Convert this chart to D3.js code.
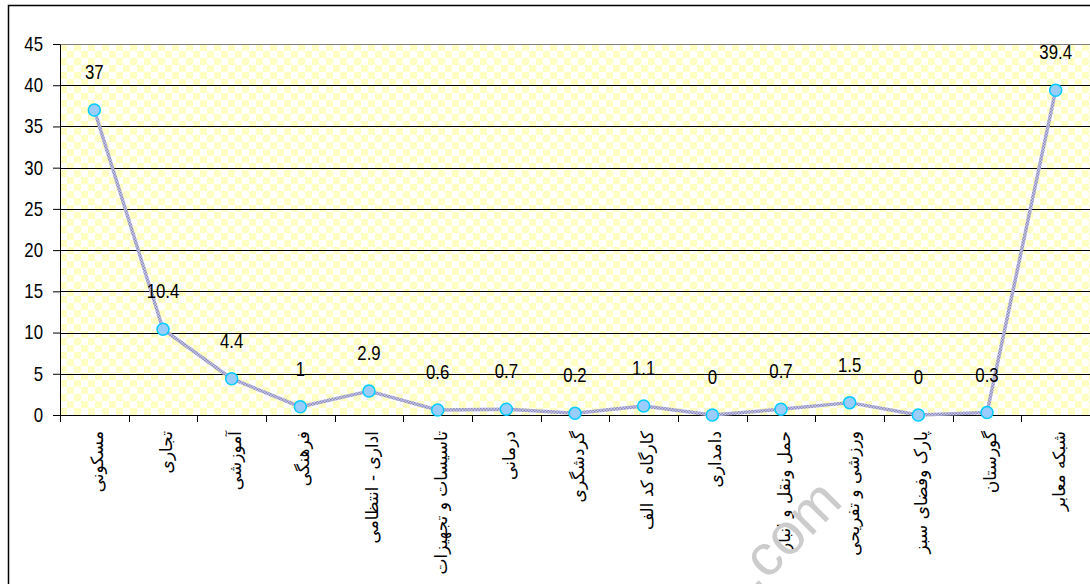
<!DOCTYPE html>
<html><head><meta charset="utf-8">
<script src="https://cdn.jsdelivr.net/npm/d3@7"></script>
<style>body{margin:0;background:#fff;} svg{display:block;}</style>
</head><body>
<svg id="c" width="1090" height="584"></svg>
<script>
const categories = ["مسکونی","تجاری","آموزشی","فرهنگی","اداری - انتظامی","تاسیسات و تجهیزات","درمانی","گردشگری","کارگاه کد الف","دامداری","حمل ونقل و انبار","ورزشی و تفریحی","پارک وفضای سبز","گورستان","شبکه معابر"];
const values = [37,10.4,4.4,1,2.9,0.6,0.7,0.2,1.1,0,0.7,1.5,0,0.3,39.4];
const yTicks = [0,5,10,15,20,25,30,35,40,45];

const svg = d3.select("#c");
const font = "'Liberation Sans',sans-serif";
const L = 60, R = 1090, T = 44, B = 415;
const SX = 0.84;

// outer frame
svg.append("rect").attr("x",8.5).attr("y",5.5).attr("width",1100).attr("height",700)
  .attr("fill","#fff").attr("stroke","#000").attr("stroke-width",1.5);

const defs = svg.append("defs");
const pat = defs.append("pattern").attr("id","chk").attr("patternUnits","userSpaceOnUse")
  .attr("width",14).attr("height",14).attr("x",L).attr("y",T);
pat.append("rect").attr("width",14).attr("height",14).attr("fill","#ffffff");
pat.append("rect").attr("width",7).attr("height",7).attr("fill","#ffffc4");
pat.append("rect").attr("x",7).attr("y",7).attr("width",7).attr("height",7).attr("fill","#ffffc4");

const lp = defs.append("pattern").attr("id","lin").attr("patternUnits","userSpaceOnUse").attr("width",3).attr("height",3);
lp.append("rect").attr("width",3).attr("height",3).attr("fill","#c8c8e6");
lp.append("rect").attr("width",1.5).attr("height",1.5).attr("fill","#8c8cc0");
lp.append("rect").attr("x",1.5).attr("y",1.5).attr("width",1.5).attr("height",1.5).attr("fill","#8c8cc0");

const x = d3.scaleBand().domain(categories).range([L,R]).padding(0);
const y = d3.scaleLinear().domain([0,45]).range([B,T]);

svg.append("rect").attr("x",L).attr("y",T).attr("width",R-L).attr("height",B-T).attr("fill","url(#chk)");

// gridlines
svg.append("g").selectAll("line").data(yTicks.filter(d=>d>0&&d<45)).join("line")
  .attr("x1",L).attr("x2",R).attr("y1",d=>Math.round(y(d))+0.5).attr("y2",d=>Math.round(y(d))+0.5)
  .attr("stroke","#000").attr("stroke-width",1);
svg.append("line").attr("x1",L).attr("x2",R).attr("y1",T+0.5).attr("y2",T+0.5).attr("stroke","#808080");

// y axis
const ya = svg.append("g").attr("transform",`translate(${L},0)`)
  .call(d3.axisLeft(y).tickValues(yTicks).tickSize(7).tickSizeOuter(0).tickPadding(9));
ya.select(".domain").attr("stroke","#000");
ya.selectAll("line").attr("stroke","#000");
ya.selectAll(".tick text").attr("x",0).attr("font-family",font).attr("font-size",20).attr("fill","#000")
  .attr("transform",`translate(-17,0) scale(${SX},1)`);

// x axis
const xa = svg.append("g").attr("transform",`translate(0,${B})`)
  .call(d3.axisBottom(x).tickSize(0).tickFormat(""));
xa.select(".domain").attr("stroke","#000");
const edges = categories.map((c,i)=>x(c)).concat([R]);
xa.selectAll("line.edge").data(edges).join("line").attr("class","edge")
  .attr("x1",d=>Math.round(d)+0.5).attr("x2",d=>Math.round(d)+0.5).attr("y1",0).attr("y2",7).attr("stroke","#000");

// x labels
svg.append("g").selectAll("text").data(categories).join("text")
  .attr("transform",d=>`translate(${x(d)+x.bandwidth()/2+4},431) rotate(-90)`)
  .attr("text-anchor","end").attr("dominant-baseline","middle")
  .attr("font-family","'DejaVu Sans',sans-serif").attr("font-size",17).attr("fill","#000")
  .text(d=>d);

// line
const line = d3.line().x((d,i)=>x(categories[i])+x.bandwidth()/2).y(d=>y(d));
svg.append("path").datum(values).attr("d",line).attr("fill","none")
  .attr("stroke","url(#lin)").attr("stroke-width",3.5).attr("stroke-linejoin","round");

svg.append("g").selectAll("circle").data(values).join("circle")
  .attr("cx",(d,i)=>x(categories[i])+x.bandwidth()/2).attr("cy",d=>y(d)).attr("r",6)
  .attr("fill","#99ccff").attr("stroke","#00ccff").attr("stroke-width",1.5);

svg.append("g").selectAll("text").data(values).join("text")
  .attr("transform",(d,i)=>`translate(${x(categories[i])+x.bandwidth()/2},${y(d)-31}) scale(${SX},1)`)
  .attr("text-anchor","middle").attr("font-family",font).attr("font-size",20).attr("fill","#000")
  .text(d=>d);

// watermark
svg.append("text").attr("transform","translate(800,548) rotate(-45)").attr("text-anchor","middle")
  .attr("font-family","'Liberation Sans',sans-serif").attr("font-size",58).attr("fill","#cccccc")
  .text(".com");
</script>
</body></html>
